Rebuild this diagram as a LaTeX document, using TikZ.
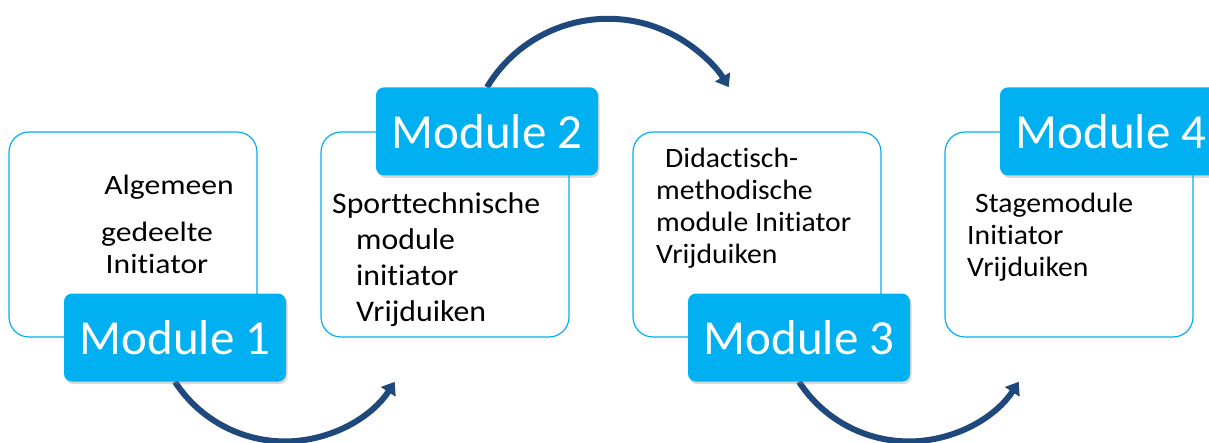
\documentclass[tikz,border=0pt]{standalone}
\usepackage{fontspec}
\setmainfont{Carlito}[Ligatures=NoCommon]
\newfontfamily\widefont{Carlito}[Ligatures=NoCommon, FakeStretch=1.13]
\newfontfamily\midfont{Carlito}[Ligatures=NoCommon, FakeStretch=1.06]
\usetikzlibrary{arrows.meta,shadows,backgrounds,positioning}
\definecolor{modcyan}{HTML}{00B0F0}
\definecolor{arcblue}{HTML}{1F497D}
\tikzset{
  modbox/.style={draw=modcyan, line width=1.2pt, rounded corners=20pt,
    minimum width=248pt, minimum height=205pt, fill=white},
  modtag/.style={fill=modcyan, text=white, rounded corners=8pt,
    minimum width=222pt, minimum height=88pt,
    font=\fontsize{49}{58}\selectfont,
    drop shadow={opacity=0.3, shadow xshift=1.5pt, shadow yshift=-2.5pt}},
  modtext/.style={inner sep=0pt, font=\midfont\fontsize{28}{32}\selectfont},
  modarc/.style={arcblue, line width=6pt, -{Triangle[width=17pt,length=12pt]}}
}
\begin{document}
\begin{tikzpicture}[x=1pt,y=1pt]
\useasboundingbox (0,0) rectangle (1209,443);

% boxes
\foreach \i/\xx in {1/133,2/445,3/757,4/1069}
  \node[modbox] (box\i) at (\xx,208.5) {};

% module tags
\node[modtag] (tag1) at ([xshift=42pt]box1.south) {Module 1};
\node[modtag] (tag2) at ([xshift=42pt]box2.north) {Module 2};
\node[modtag] (tag3) at ([xshift=42pt]box3.south) {Module 3};
\node[modtag] (tag4) at ([xshift=42pt]box4.north) {Module 4};

% arrows
\begin{scope}[on background layer]
\draw[modarc] (tag1.south) arc[start angle=213, end angle=327, radius=131];
\draw[modarc] (tag2.north) arc[start angle=149, end angle=31, radius=141];
\draw[modarc] (tag3.south) arc[start angle=213, end angle=327, radius=131];
\end{scope}

% texts
\node[modtext, anchor=north, align=center,
  font=\widefont\fontsize{28}{32}\selectfont] (txt1) at (157,268)
  {\hspace*{24pt}Algemeen\\[15pt]gedeelte\\Initiator};
\node[modtext, anchor=north west, align=left,
  font=\midfont\fontsize{30}{36}\selectfont] (txt2) at (332,251)
  {Sporttechnische\\\hspace*{24pt}module\\\hspace*{24pt}initiator\\\hspace*{24pt}Vrijduiken};
\node[modtext, anchor=north west, align=left] (txt3) at (656,295)
  {\hspace*{9pt}Didactisch-\\methodische\\module Initiator\\Vrijduiken};
\node[modtext, anchor=north west, align=left] (txt4) at (967,250)
  {\hspace*{8pt}Stagemodule\\Initiator\\Vrijduiken};
\end{tikzpicture}
\end{document}
